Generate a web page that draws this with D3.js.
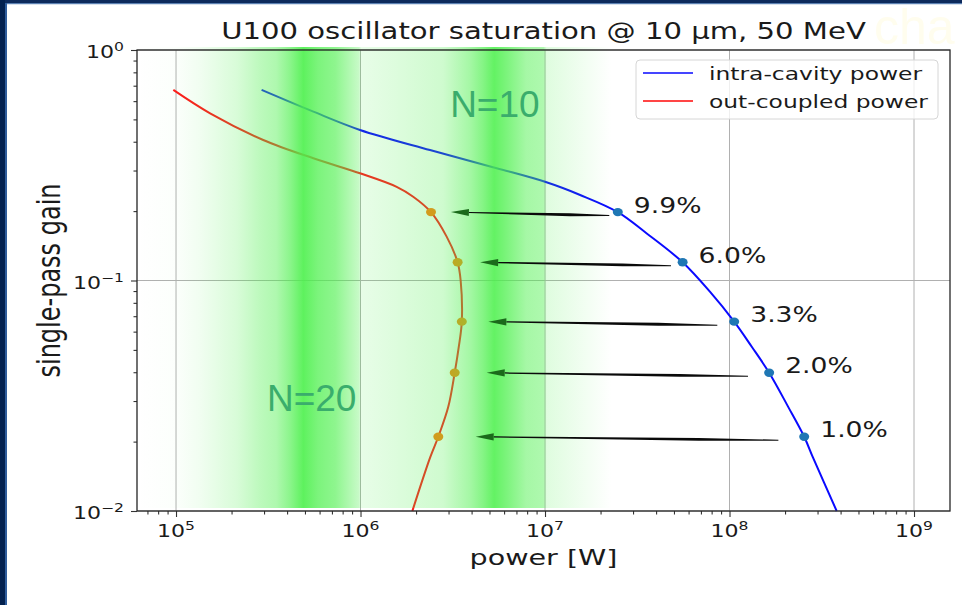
<!DOCTYPE html>
<html><head><meta charset="utf-8">
<script src="https://cdn.jsdelivr.net/npm/d3@7"></script>
<style>body{margin:0;background:#fff}svg{display:block}</style>
</head><body>
<svg id="c" width="962" height="605"></svg>
<script>
// ---------- data ----------
const title = "U100 oscillator saturation @ 10 μm, 50 MeV";
const xLabel = "power [W]";
const yLabel = "single-pass gain";
const seriesNames = ["intra-cavity power", "out-coupled power"];

const intraPower = [2.91e5, 5.55e5, 9.93e5, 2.38e6, 5.47e6, 1.0e7, 1.55e7, 2.48e7, 3.56e7, 5.57e7, 7.83e7, 1.06e8, 1.32e8, 1.64e8, 2.08e8, 2.54e8, 2.84e8, 3.81e8];
const intraGain  = [0.671, 0.540, 0.450, 0.368, 0.307, 0.268, 0.235, 0.198, 0.160, 0.120, 0.0894, 0.0663, 0.0516, 0.0398, 0.0283, 0.0210, 0.0170, 0.0100];

const outPower = [9.67e4, 1.53e5, 2.97e5, 5.55e5, 9.93e5, 1.57e6, 1.93e6, 2.41e6, 2.93e6, 3.36e6, 3.49e6, 3.54e6, 3.41e6, 3.24e6, 2.99e6, 2.64e6, 2.38e6, 1.91e6];
const outGain  = [0.671, 0.531, 0.407, 0.339, 0.292, 0.255, 0.231, 0.198, 0.155, 0.120, 0.100, 0.0663, 0.0516, 0.0398, 0.0283, 0.0210, 0.0170, 0.0100];

const couplingLabels = ["9.9%", "6.0%", "3.3%", "2.0%", "1.0%"];
const opGain       = [0.198, 0.120, 0.0663, 0.0398, 0.0210];
const opIntraPower = [2.48e7, 5.57e7, 1.06e8, 1.64e8, 2.54e8];
const opOutPower   = [2.41e6, 3.36e6, 3.54e6, 3.24e6, 2.64e6];
const arrowTailPower = [2.23e7, 4.82e7, 8.59e7, 1.26e8, 1.84e8];
const arrowTipPower  = [3.09e6, 4.45e6, 4.93e6, 4.83e6, 4.21e6];

// green harmonic bands: power position and green intensity
const bandPower   = [1.0e5, 1.35e5, 2.15e5, 2.85e5, 3.5e5, 4.1e5, 4.9e5, 5.9e5, 7.3e5, 9.8e5, 1.01e6, 2.8e6, 3.9e6, 4.6e6, 5.3e6, 6.2e6, 7.9e6, 9.8e6, 1.02e7, 1.53e7, 2.3e7];
const bandOpacity = [0.02, 0.08, 0.22, 0.37, 0.45, 0.63, 0.90, 0.73, 0.63, 0.31, 0.13, 0.27, 0.50, 0.68, 0.87, 0.73, 0.50, 0.45, 0.18, 0.09, 0.0];

const bandLabels = ["N=10", "N=20"];
const bandLabelPower = [3.06e6, 3.11e5];
const bandLabelGain  = [0.512, 0.0272];

const xTickExp = ["5", "6", "7", "8", "9"];
const xTickVals = [1e5, 1e6, 1e7, 1e8, 1e9];
const yTickExp = ["−2", "−1", "0"];
const yTickVals = [1e-2, 1e-1, 1e0];

// ---------- layout ----------
const svg = d3.select("#c");
const L = 137, R = 950, T = 50, B = 511;
const SX = 1.3; // horizontal stretch of the original figure text

const x = d3.scaleLog().domain([6.145e4, 1.567e9]).range([L, R]);
const y = d3.scaleLog().domain([0.01, 1]).range([B, T]);

// slide frame
svg.append("rect").attr("x", 0).attr("y", 0).attr("width", 962).attr("height", 605).attr("fill", "#fff");
svg.append("text").attr("x", 874).attr("y", 44).attr("font-family", "Liberation Sans, Arial, sans-serif")
  .attr("font-size", 50).attr("fill", "#fffdee").text("cha");
svg.append("rect").attr("x", 0).attr("y", 0).attr("width", 962).attr("height", 3.2).attr("fill", "#0d2a5c");
svg.append("rect").attr("x", 0).attr("y", 3.2).attr("width", 962).attr("height", 1).attr("fill", "#3d6aa6");
svg.append("rect").attr("x", 0).attr("y", 0).attr("width", 5).attr("height", 605).attr("fill", "#03214f");
svg.append("rect").attr("x", 5).attr("y", 3).attr("width", 2).attr("height", 602).attr("fill", "#2f5d9c");

// grid
const grid = svg.append("g").attr("stroke", "#b0b0b0").attr("stroke-width", 1);
xTickVals.forEach(v => grid.append("line").attr("x1", x(v)).attr("x2", x(v)).attr("y1", T).attr("y2", B));
yTickVals.forEach(v => grid.append("line").attr("x1", L).attr("x2", R).attr("y1", y(v)).attr("y2", y(v)));

// curves
const line = d3.line().x(d => x(d[0])).y(d => y(d[1])).curve(d3.curveCatmullRom.alpha(0.5));
svg.append("path").datum(intraPower.map((p, i) => [p, intraGain[i]]))
  .attr("d", line).attr("fill", "none").attr("stroke", "#0a0aff").attr("stroke-width", 2);
svg.append("path").datum(outPower.map((p, i) => [p, outGain[i]]))
  .attr("d", line).attr("fill", "none").attr("stroke", "#ff1a1a").attr("stroke-width", 2);

// markers
opGain.forEach((g, i) => {
  svg.append("ellipse").attr("cx", x(opIntraPower[i])).attr("cy", y(g)).attr("rx", 5).attr("ry", 4.2).attr("fill", "#1f77b4");
  svg.append("ellipse").attr("cx", x(opOutPower[i])).attr("cy", y(g)).attr("rx", 5).attr("ry", 4.2).attr("fill", "#ff7f0e");
});

// green band overlay
const defs = svg.append("defs");
const grad = defs.append("linearGradient").attr("id", "band").attr("gradientUnits", "userSpaceOnUse")
  .attr("x1", L).attr("x2", R).attr("y1", 0).attr("y2", 0);
grad.append("stop").attr("offset", 0).attr("stop-color", "rgb(76,240,76)").attr("stop-opacity", 0);
bandPower.forEach((p, i) => {
  grad.append("stop").attr("offset", (x(p) - L) / (R - L))
    .attr("stop-color", "rgb(76,240,76)").attr("stop-opacity", bandOpacity[i]);
});
grad.append("stop").attr("offset", 1).attr("stop-color", "rgb(76,240,76)").attr("stop-opacity", 0);
svg.append("rect").attr("x", L).attr("y", T - 3).attr("width", R - L).attr("height", B - T).attr("fill", "url(#band)");

// arrows
opGain.forEach((g, i) => {
  const tx = x(arrowTipPower[i]), ty = y(g);
  const sx = x(arrowTailPower[i]), sy = y(g) + 3.5;
  const dx = sx - tx, dy = sy - ty, len = Math.hypot(dx, dy);
  const ux = dx / len, uy = dy / len, nx = -uy, ny = ux;
  const hl = 18, hw = 3.6;
  const bx = tx + ux * hl, by = ty + uy * hl;
  const mx = tx + ux * (hl + (len - hl) * 0.72), my = ty + uy * (hl + (len - hl) * 0.72);
  const shaft = [[bx + nx * 0.6, by + ny * 0.6], [mx + nx * 1.4, my + ny * 1.4], [sx + nx * 0.5, sy + ny * 0.5],
                 [sx - nx * 0.5, sy - ny * 0.5], [mx - nx * 1.4, my - ny * 1.4], [bx - nx * 0.6, by - ny * 0.6]];
  svg.append("path").attr("d", "M" + shaft.join("L") + "Z").attr("fill", "#0a0a0a");
  const head = [[tx, ty], [bx + nx * hw, by + ny * hw], [bx - nx * hw, by - ny * hw]];
  svg.append("path").attr("d", "M" + head.join("L") + "Z").attr("fill", "#1b6a1b");
});

// helper for stretched text
const FONT = "DejaVu Sans, Bitstream Vera Sans, sans-serif";
function stext(px, py, size, anchor) {
  return svg.append("text").attr("transform", `translate(${px},${py}) scale(${SX},1)`)
    .attr("font-family", FONT).attr("font-size", size).attr("text-anchor", anchor || "start").attr("fill", "#1a1a1a");
}

// coupling labels
opGain.forEach((g, i) => {
  stext(x(opIntraPower[i]) + 16, y(g) + 0.5, 20.5).text(couplingLabels[i]);
});

// band labels
bandLabels.forEach((t, i) => {
  svg.append("text").attr("x", x(bandLabelPower[i])).attr("y", y(bandLabelGain[i]))
    .attr("font-family", "Liberation Sans, Arial, sans-serif").attr("font-size", 37)
    .attr("fill", "#3aad6c").text(t);
});

// axes ticks (major & minor) via d3 axes
const xMinor = [], yMinor = [];
for (let e = 4; e <= 9; e++) for (let m = 2; m <= 9; m++) { const v = m * Math.pow(10, e); if (v > x.domain()[0] && v < x.domain()[1]) xMinor.push(v); }
for (let e = -2; e <= -1; e++) for (let m = 2; m <= 9; m++) yMinor.push(m * Math.pow(10, e));

function styleAxis(g) { g.select(".domain").remove(); g.selectAll("line").attr("stroke", "#333").attr("stroke-width", 1.1); g.selectAll("text").remove(); }
svg.append("g").attr("transform", `translate(0,${B})`).call(d3.axisBottom(x).tickValues(xTickVals).tickSize(6)).call(styleAxis);
svg.append("g").attr("transform", `translate(0,${B})`).call(d3.axisBottom(x).tickValues(xMinor).tickSize(3.5)).call(styleAxis);
svg.append("g").attr("transform", `translate(${L},0)`).call(d3.axisLeft(y).tickValues(yTickVals).tickSize(6)).call(styleAxis);
svg.append("g").attr("transform", `translate(${L},0)`).call(d3.axisLeft(y).tickValues(yMinor).tickSize(3.5)).call(styleAxis);

// tick labels
xTickVals.forEach((v, i) => {
  const t = stext(x(v), B + 26, 17, "middle");
  t.append("tspan").text("10");
  t.append("tspan").attr("font-size", 12).attr("dy", -7).text(xTickExp[i]);
});
yTickVals.forEach((v, i) => {
  const t = stext(124, y(v) + 8, 17, "end");
  t.append("tspan").text("10");
  t.append("tspan").attr("font-size", 12).attr("dy", -7).text(yTickExp[i]);
});

// spines
svg.append("rect").attr("x", L).attr("y", T).attr("width", R - L).attr("height", B - T)
  .attr("fill", "none").attr("stroke", "#262626").attr("stroke-width", 1.3);

// title & labels
stext((L + R) / 2, 39, 22.4, "middle").text(title);
stext((L + R) / 2, 565, 22, "middle").text(xLabel);
svg.append("text").attr("transform", `translate(60,${(T + B) / 2}) scale(${SX},1) rotate(-90)`)
  .attr("font-family", FONT).attr("font-size", 24).attr("text-anchor", "middle").attr("fill", "#1a1a1a").text(yLabel);

// legend
const lg = svg.append("g");
lg.append("rect").attr("x", 636).attr("y", 60).attr("width", 302).attr("height", 59).attr("rx", 4)
  .attr("fill", "#fff").attr("fill-opacity", 0.8).attr("stroke", "#d6d6d6").attr("stroke-width", 1);
const legColors = ["#4545ff", "#ff4545"];
seriesNames.forEach((n, i) => {
  const ly = 73 + i * 28;
  lg.append("line").attr("x1", 643).attr("x2", 693).attr("y1", ly).attr("y2", ly).attr("stroke", legColors[i]).attr("stroke-width", 2);
  stext(709, ly + 6.5, 18).text(n);
});
</script>
</body></html>
